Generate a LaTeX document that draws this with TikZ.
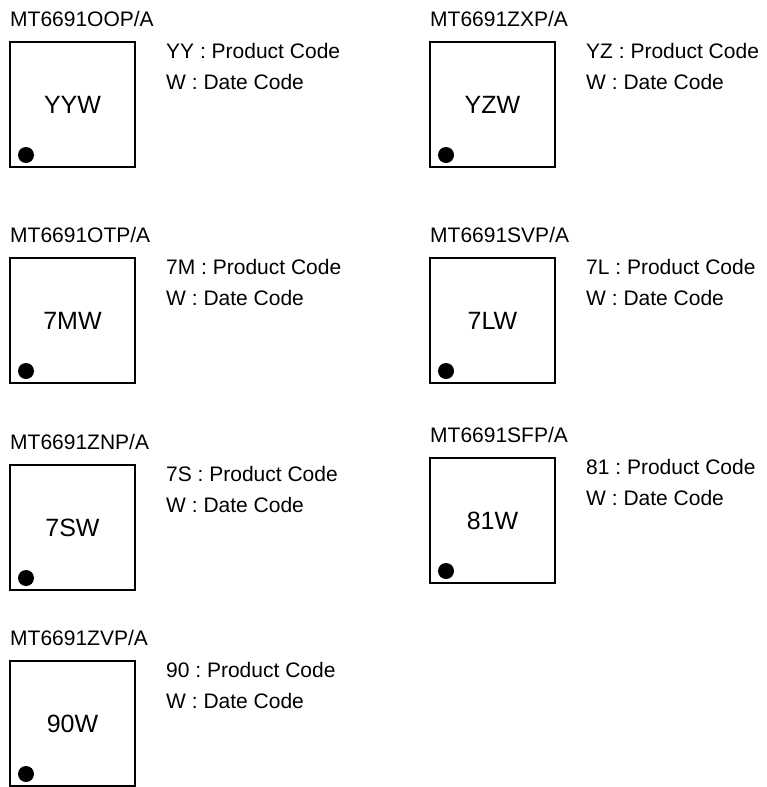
\documentclass[tikz,border=0pt]{standalone}
\usepackage{fontspec}
\setmainfont{Liberation Sans}
\tikzset{
  chip/.style={draw, line width=1.4pt, minimum width=125pt, minimum height=125pt, inner sep=0pt, font=\fontsize{25}{29}\selectfont},
  pinone/.style={circle, fill=black, minimum size=16pt, inner sep=0pt},
  lbl/.style={anchor=base west, inner sep=0pt, font=\fontsize{21}{25}\selectfont\frenchspacing},
}
\newcommand\chipunit[6]{%
  \node[chip] (box-#1) at (#2+62.5,#3+62.5) {#5};
  \node[pinone] (dot-#1) at (#2+16,#3+113) {};
  \node[lbl] (title-#1) at (#2,#3-16) {#4};
  \node[lbl] (code-#1) at (#2+156,#3+16) {#6 : Product Code};
  \node[lbl] (date-#1) at (#2+156,#3+47) {W : Date Code};
}
\begin{document}
\frenchspacing
\begin{tikzpicture}[x=1pt,y=-1pt]
\useasboundingbox (0,0) rectangle (766,787);
\chipunit{a}{10}{42}{MT6691OOP/A}{YYW}{YY}
\chipunit{b}{430}{42}{MT6691ZXP/A}{YZW}{YZ}
\chipunit{c}{10}{258}{MT6691OTP/A}{7MW}{7M}
\chipunit{d}{430}{258}{MT6691SVP/A}{7LW}{7L}
\chipunit{e}{10}{465}{MT6691ZNP/A}{7SW}{7S}
\chipunit{f}{430}{458}{MT6691SFP/A}{81W}{81}
\chipunit{g}{10}{661}{MT6691ZVP/A}{90W}{90}
\end{tikzpicture}
\end{document}
